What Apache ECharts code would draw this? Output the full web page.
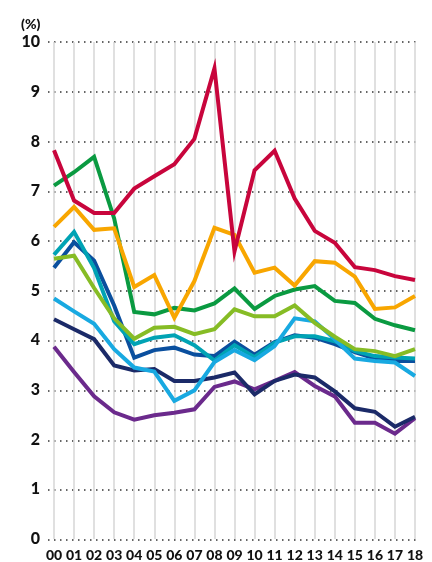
<!DOCTYPE html>
<html>
<head>
<meta charset="utf-8">
<script src="https://cdn.jsdelivr.net/npm/echarts@6/dist/echarts.min.js"></script>
<style>
html,body{margin:0;padding:0;background:#fff;}
#c{width:432px;height:562px;}
</style>
</head>
<body>
<div id="c"></div>
<script>
var categories = ['00','01','02','03','04','05','06','07','08','09','10','11','12','13','14','15','16','17','18'];
var yTicks = [0,1,2,3,4,5,6,7,8,9,10];

var red        = [7.82,6.81,6.56,6.56,7.05,7.30,7.54,8.05,9.47,5.79,7.42,7.81,6.85,6.20,5.96,5.47,5.41,5.29,5.21];
var orange     = [6.28,6.68,6.22,6.25,5.07,5.31,4.45,5.19,6.26,6.12,5.36,5.46,5.10,5.59,5.56,5.28,4.63,4.66,4.89];
var green      = [7.11,7.38,7.69,6.45,4.57,4.52,4.65,4.60,4.74,5.04,4.63,4.89,5.02,5.09,4.79,4.75,4.43,4.30,4.20];
var yellowGreen= [5.64,5.70,5.05,4.44,4.03,4.25,4.27,4.12,4.22,4.62,4.48,4.48,4.70,4.35,4.07,3.82,3.78,3.68,3.82];
var teal       = [5.72,6.18,5.45,4.38,3.92,4.05,4.10,3.90,3.59,3.90,3.66,3.95,4.08,4.08,3.98,3.78,3.68,3.65,3.63];
var lightBlue  = [4.84,4.58,4.33,3.82,3.45,3.37,2.78,2.99,3.56,3.80,3.60,3.88,4.44,4.38,4.02,3.63,3.58,3.55,3.28];
var blue       = [5.46,5.97,5.60,4.70,3.65,3.80,3.85,3.71,3.68,3.97,3.71,3.96,4.10,4.05,3.92,3.76,3.63,3.58,3.58];
var navy       = [4.42,4.22,4.02,3.49,3.39,3.42,3.18,3.18,3.25,3.35,2.91,3.18,3.31,3.25,2.97,2.63,2.56,2.26,2.46];
var purple     = [3.87,3.36,2.87,2.55,2.40,2.49,2.54,2.61,3.06,3.17,3.01,3.18,3.36,3.08,2.87,2.34,2.34,2.12,2.43];

var seriesDefs = [
  {name:'purple', data:purple, color:'#6b2a8c'},
  {name:'navy', data:navy, color:'#1b2a68'},
  {name:'blue', data:blue, color:'#0a4f9e'},
  {name:'teal', data:teal, color:'#00a3b4'},
  {name:'lightBlue', data:lightBlue, color:'#18a9e1'},
  {name:'yellowGreen', data:yellowGreen, color:'#86bc25'},
  {name:'green', data:green, color:'#0a9a41'},
  {name:'orange', data:orange, color:'#f8a600'},
  {name:'red', data:red, color:'#c8053c'}
];

var FONT = 'Lato';
var chart = echarts.init(document.getElementById('c'), null, {renderer:'canvas'});
var option = {
  animation:false,
  backgroundColor:'#fff',
  title:{text:'(%)', left:16, top:12, textStyle:{fontFamily:FONT, fontWeight:900, fontSize:14, color:'#111'}},
  grid:[
    {left:54, right:17, top:42, bottom:22},
    {left:48, right:14, top:42, bottom:22}
  ],
  xAxis:[
    {type:'category', gridIndex:0, data:categories, boundaryGap:false,
     axisLine:{show:false}, axisTick:{show:false},
     axisLabel:{interval:0, margin:9, fontFamily:FONT, fontWeight:900, fontSize:14, color:'#111'},
     splitLine:{show:true, interval:0, lineStyle:{color:'#d6d6d6', width:1.5}}},
    {type:'value', gridIndex:1, min:0, max:1, show:false}
  ],
  yAxis:[
    {type:'value', gridIndex:0, min:yTicks[0], max:yTicks[yTicks.length-1], interval:1,
     axisLine:{show:false}, axisTick:{show:false}, splitLine:{show:false},
     axisLabel:{margin:14, fontFamily:FONT, fontWeight:900, fontSize:16, color:'#111'}},
    {type:'value', gridIndex:1, min:yTicks[0], max:yTicks[yTicks.length-1], interval:1,
     axisLine:{show:false}, axisTick:{show:false}, axisLabel:{show:false},
     splitLine:{show:true, lineStyle:{color:'#333', width:1.5, type:[1.5,4.5]}}}
  ],
  series: seriesDefs.map(function(s){
    return {type:'line', name:s.name, data:s.data, xAxisIndex:0, yAxisIndex:0,
      symbol:'none', silent:true,
      lineStyle:{color:s.color, width:4, join:'miter'}, itemStyle:{color:s.color}};
  })
};
chart.setOption(option);
</script>
</body>
</html>
